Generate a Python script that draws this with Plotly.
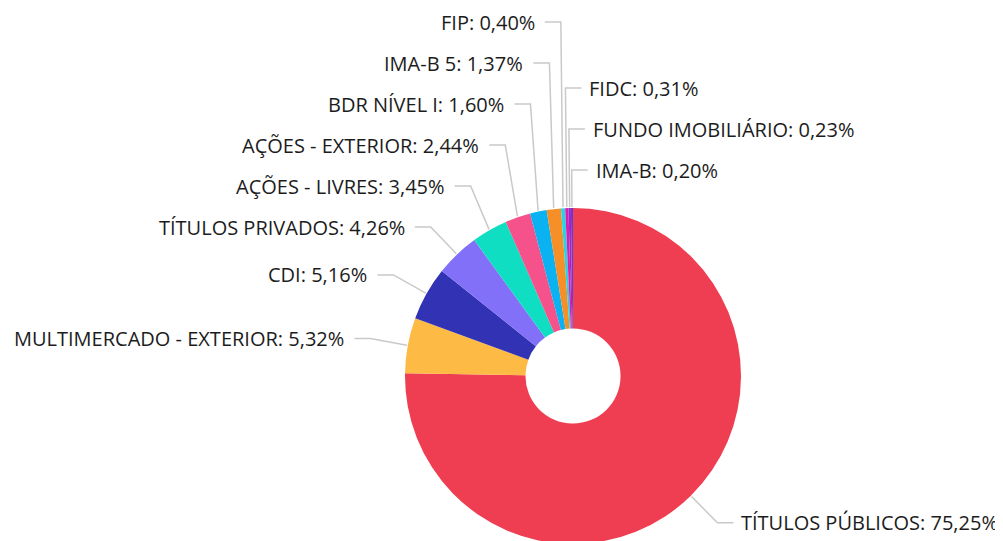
import math
import plotly.graph_objects as go

labels = ["TÍTULOS PÚBLICOS", "MULTIMERCADO - EXTERIOR", "CDI", "TÍTULOS PRIVADOS",
          "AÇÕES - LIVRES", "AÇÕES - EXTERIOR", "BDR NÍVEL I", "IMA-B 5", "FIP",
          "FIDC", "FUNDO IMOBILIÁRIO", "IMA-B"]
values = [75.25, 5.32, 5.16, 4.26, 3.45, 2.44, 1.60, 1.37, 0.40, 0.31, 0.23, 0.20]
value_text = ["75,25%", "5,32%", "5,16%", "4,26%", "3,45%", "2,44%", "1,60%", "1,37%",
              "0,40%", "0,31%", "0,23%", "0,20%"]
colors = ["#EF3E52", "#FDBA45", "#3232B4", "#8370F8", "#0FDEC3", "#F5528C", "#0AB2F1",
          "#F78F28", "#28D3E3", "#E01AAE", "#9C27C8", "#6B3ACB"]

W, H = 1003, 541
CX, CY, R = 565, 368, 168
HOLE = 0.283
LABEL_R = 206
SPACING = 41
SEG = 16
GAP_LEFT = 8
GAP_RIGHT = 6
WRAP_DEG = 357.5
FONT = dict(family="Open Sans", size=20, color="#1c1c1c")
LINE_COLOR = "#C9C9C9"

total = sum(values)
cum = 0.0
items = []
for i, v in enumerate(values):
    mid = (cum + v / 2) / total * 360.0
    cum += v
    th = mid - 360.0 if mid > WRAP_DEG else mid
    side = "right" if th < 180 else "left"
    rad = math.radians(th)
    items.append(dict(i=i, th=th, side=side,
                      ex=CX + (R + 1) * math.sin(rad), ey=CY - (R + 1) * math.cos(rad),
                      px=CX + LABEL_R * math.sin(rad), ny=CY - LABEL_R * math.cos(rad)))

# resolve overlaps per side, pushing labels upward from the bottom
for side in ("left", "right"):
    group = [it for it in items if it["side"] == side]
    if side == "right":
        group.sort(key=lambda it: -it["th"])  # bottom first
    else:
        group.sort(key=lambda it: it["th"])   # bottom first
    prev = None
    for it in group:
        y = it["ny"] if prev is None else min(it["ny"], prev - SPACING)
        it["ly"] = y
        prev = y

fig = go.Figure()

lx, ly = [], []
annotations = []
for it in items:
    right = it["side"] == "right"
    sgn = 1 if right else -1
    gap = GAP_RIGHT if right else GAP_LEFT
    lx += [it["ex"], it["px"], it["px"] + sgn * SEG, None]
    ly += [it["ey"], it["ly"], it["ly"], None]
    annotations.append(dict(
        x=it["px"] + sgn * (SEG + gap), y=it["ly"], xref="x", yref="y",
        text=f"{labels[it['i']]}: {value_text[it['i']]}", showarrow=False,
        xanchor="left" if right else "right", yanchor="middle", font=FONT))

fig.add_trace(go.Scatter(x=lx, y=ly, mode="lines", hoverinfo="skip",
                         line=dict(color=LINE_COLOR, width=1.5), showlegend=False))

fig.add_trace(go.Pie(
    labels=labels, values=values, sort=False, direction="clockwise", rotation=0,
    hole=HOLE, textinfo="none", showlegend=False,
    marker=dict(colors=colors, line=dict(width=0)),
    domain=dict(x=[(CX - R) / W, (CX + R) / W], y=[(H - CY - R) / H, (H - CY + R) / H]),
))

fig.update_layout(
    width=W, height=H, margin=dict(l=0, r=0, t=0, b=0),
    paper_bgcolor="white", plot_bgcolor="white",
    xaxis=dict(range=[0, W], visible=False, fixedrange=True, domain=[0, 1]),
    yaxis=dict(range=[H, 0], visible=False, fixedrange=True, domain=[0, 1]),
    annotations=annotations,
)

fig.write_html("out.html")
